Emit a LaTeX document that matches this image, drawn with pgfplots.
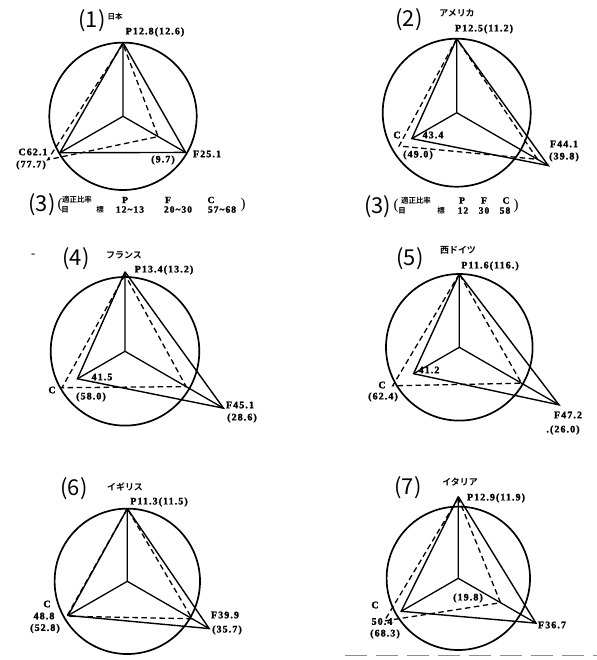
\documentclass[border=0pt]{standalone}
\usepackage{fontspec}
\usepackage{pgfplots}
\pgfplotsset{compat=1.18}
\usepgfplotslibrary{polar}
\setmainfont{Liberation Serif}
\newfontfamily\jp{Noto Sans CJK JP}
\newfontfamily\jpb{Noto Sans CJK JP Bold}
\newfontfamily\num{Liberation Serif}[LetterSpace=11.0, BoldFeatures={FakeBold=1.6}]

\pgfplotsset{
    pfc/.style={scale only axis, anchor=center, clip=false,
        xtick=\empty, ytick=\empty, ymin=0, ymax=1,
        separate axis lines,
        x axis line style={line width=1.7bp},
        y axis line style={draw=none}},
}
\tikzset{
    lbl/.style={font=\num\bfseries\fontsize{10}{10}\selectfont, inner sep=0pt},
    tb/.style={font=\num\bfseries\fontsize{9.5}{9.5}\selectfont, inner sep=0pt},
    ttl/.style={font=\jp\fontsize{22}{22}\selectfont, inner sep=0pt},
    jl/.style={font=\jpb\fontsize{9}{9}\selectfont, inner sep=0pt},
    sm/.style={font=\jpb\fontsize{7.5}{7.5}\selectfont, inner sep=0pt},
    par/.style={font=\fontsize{15}{15}\selectfont, inner sep=0pt},
}
% #1,#2 centre (bp), #3 diameter, #4-#6 solid P C F, #7-#9 dashed P C F (radius 1 = circle)
\newcommand{\pfc}[9]{%
\begin{polaraxis}[pfc, at={(#1bp,#2bp)}, width=#3bp, height=#3bp]
\addplot[black, line width=1.3bp] coordinates {(90,#4) (0,0) (210,#5)};
\addplot[black, line width=1.3bp] coordinates {(0,0) (330,#6)};
\addplot[black, line width=1.4bp] coordinates {(90,#4) (210,#5) (330,#6) (90,#4)};
\addplot[black, line width=1.3bp, dash pattern=on 5.5bp off 3.5bp] coordinates {(90,#7) (210,#8) (330,#9) (90,#7)};
\end{polaraxis}}

\begin{document}
\begin{tikzpicture}[x=1bp, y=1bp]
\path[use as bounding box, fill=white] (0,0) rectangle (597,-660);

\pfc{123}{-116.3}{147.4}{1.00}{0.99}{0.98}{0.98}{1.18}{0.55}
\pfc{456.7}{-112.7}{148}{1.00}{0.70}{1.43}{1.00}{0.90}{1.26}
\pfc{125}{-351.3}{148.6}{1.07}{0.74}{1.53}{1.03}{0.98}{0.95}
\pfc{459.3}{-347.3}{146.6}{1.00}{0.72}{1.57}{1.00}{1.05}{0.98}
\pfc{127.3}{-581.3}{145.4}{1.00}{0.94}{1.30}{1.00}{0.96}{1.03}
\pfc{458.3}{-578.3}{143.4}{1.14}{0.92}{1.25}{1.12}{1.19}{0.68}

% (1)
\node[ttl] at (92,-21) {(1)};
\node[sm] at (115,-17) {日本};
\node[lbl] at (155,-32) {P12.8(12.6)};
\node[lbl] at (33,-152) {C62.1};
\node[lbl] at (31,-165) {(77.7)};
\node[lbl] at (163,-160) {(9.7)};
\node[lbl] at (207,-154) {F25.1};
% (2)
\node[ttl] at (409,-20) {(2)};
\node[jl] at (457,-13) {アメリカ};
\node[lbl] at (484,-29) {P12.5(11.2)};
\node[lbl] at (397,-135) {C};
\node[lbl] at (433,-135) {43.4};
\node[lbl] at (418,-155) {(49.0)};
\node[lbl] at (564,-144) {F44.1};
\node[lbl] at (564,-157) {(39.8)};
% (3)
\node[ttl] at (42,-205) {(3)};
\node[par] at (60,-205) {(};
\node[par] at (243,-205) {)};
\node[sm] at (77,-200) {適正比率};
\node[tb] at (125,-200) {P};
\node[tb] at (168,-200) {F};
\node[tb] at (211,-200) {C};
\node[sm] at (65,-209.5) {目};
\node[sm] at (100,-209.5) {標};
\node[tb] at (130,-209.5) {12\textasciitilde 13};
\node[tb] at (178,-209.5) {20\textasciitilde 30};
\node[tb] at (222,-209.5) {57\textasciitilde 68};
\node[ttl] at (377.5,-207) {(3)};
\node[par] at (396,-206) {(};
\node[par] at (516,-206) {)};
\node[sm] at (416,-200.5) {適正比率};
\node[tb] at (462,-200.5) {P};
\node[tb] at (484,-200.5) {F};
\node[tb] at (506,-200.5) {C};
\node[sm] at (402,-210.5) {目};
\node[sm] at (441,-210.5) {標};
\node[tb] at (463,-210.5) {12};
\node[tb] at (484,-210.5) {30};
\node[tb] at (505,-210.5) {58};
% (4)
\node[lbl] at (33,-255) {-};
\node[ttl] at (76,-259) {(4)};
\node[jl] at (124,-255) {フランス};
\node[lbl] at (164,-270) {P13.4(13.2)};
\node[lbl] at (52,-390) {C};
\node[lbl] at (102,-377) {41.5};
\node[lbl] at (91,-397) {(58.0)};
\node[lbl] at (240,-405) {F45.1};
\node[lbl] at (242,-418) {(28.6)};
% (5)
\node[ttl] at (410,-259) {(5)};
\node[jl] at (458,-250) {西ドイツ};
\node[lbl] at (490,-266) {P11.6(116.)};
\node[lbl] at (382,-385) {C};
\node[lbl] at (429,-370) {41.2};
\node[lbl] at (383,-397) {(62.4)};
\node[lbl] at (568,-415) {F47.2};
\node[lbl] at (563,-430) {.(26.0)};
% (6)
\node[ttl] at (74,-489) {(6)};
\node[jl] at (125,-487) {イギリス};
\node[lbl] at (159,-502) {P11.3(11.5)};
\node[lbl] at (47,-604) {C};
\node[lbl] at (44,-616) {48.8};
\node[lbl] at (45,-628.5) {(52.8)};
\node[lbl] at (225,-615) {F39.9};
\node[lbl] at (227,-630) {(35.7)};
% (7)
\node[ttl] at (408,-488) {(7)};
\node[jl] at (460,-482) {イタリア};
\node[lbl] at (496,-498) {P12.9(11.9)};
\node[lbl] at (375,-605) {C};
\node[lbl] at (382,-621.5) {50.4};
\node[lbl] at (385,-634) {(68.3)};
\node[lbl] at (468,-598) {(19.8)};
\node[lbl] at (552,-625) {F36.7};

\draw[black!45, line width=0.8bp, dash pattern=on 22bp off 9bp] (345,-655) -- (597,-655);
\end{tikzpicture}
\end{document}
